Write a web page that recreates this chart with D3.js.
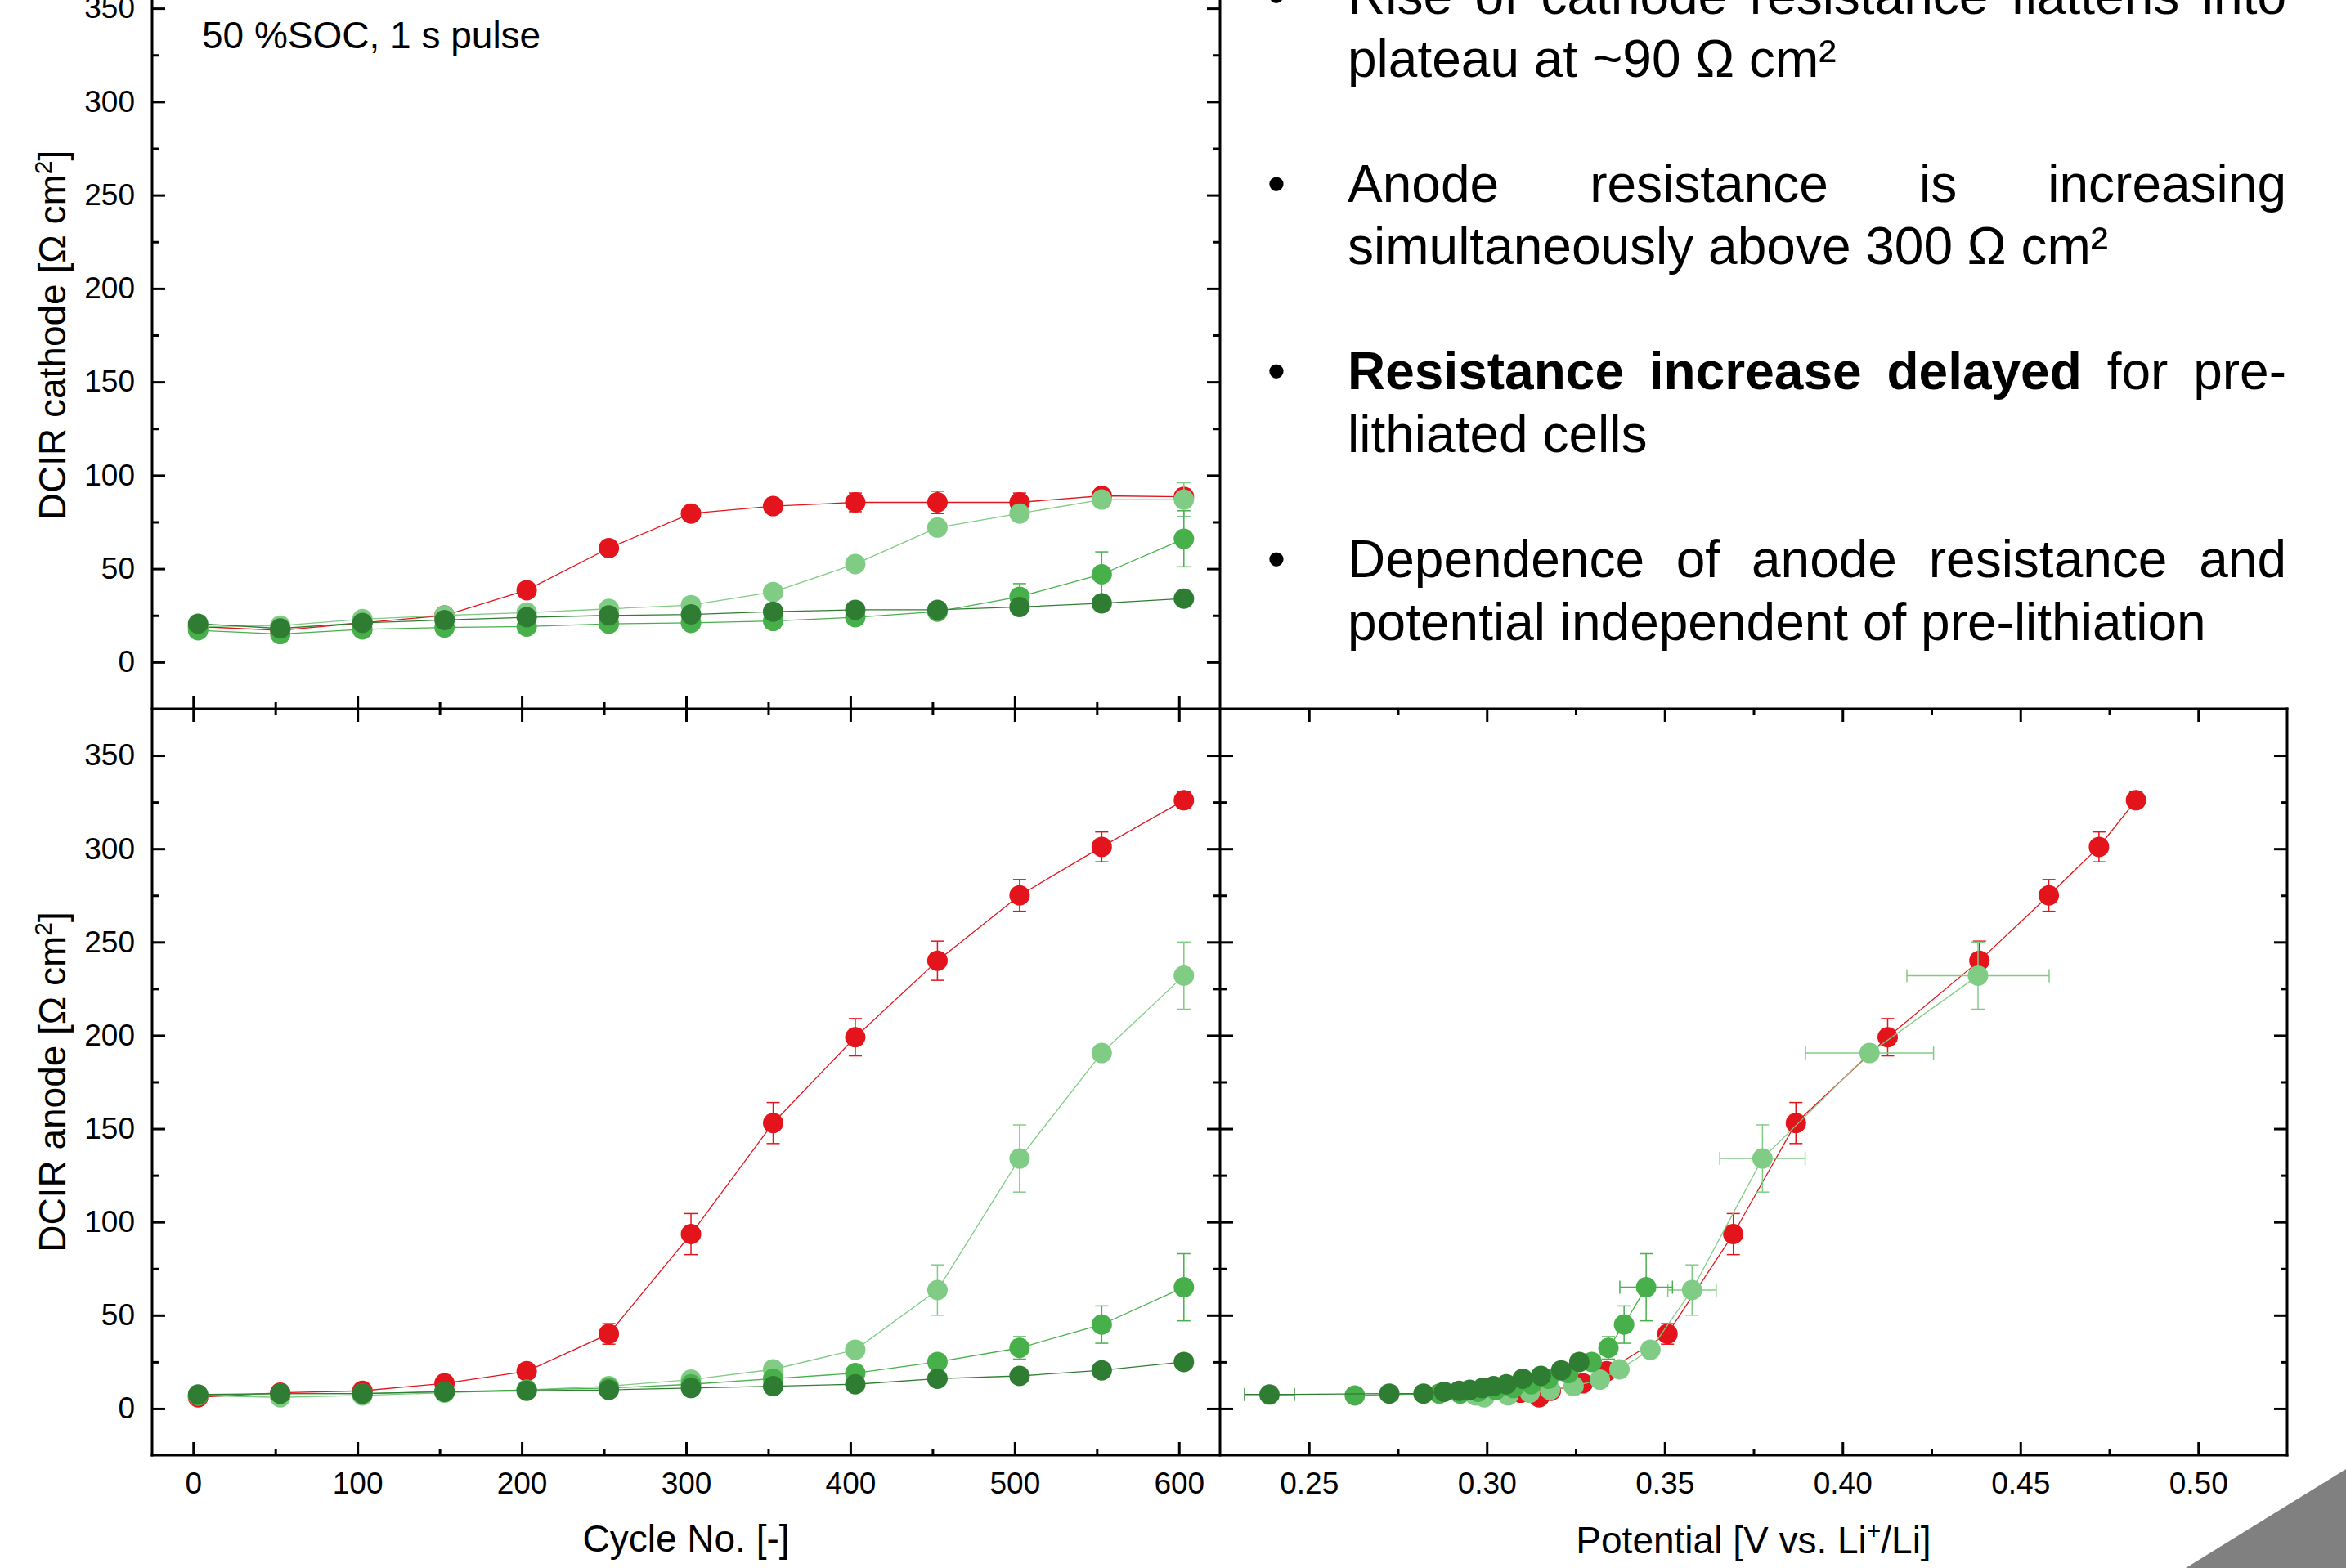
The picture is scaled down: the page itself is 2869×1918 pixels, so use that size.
<!DOCTYPE html>
<html lang="en">
<head>
<meta charset="UTF-8">
<title>DCIR cathode / anode vs cycle and potential</title>
<script src="https://d3js.org/d3.v7.min.js"></script>
<style>
    body { margin: 0; background: #fff; }
    text { font-family: "Liberation Sans", Arial, sans-serif; fill: #000; }
</style>
</head>
<body>
<script>
    // ---- data ----
    var cycleNo = [3, 53, 103, 153, 203, 253, 303, 353, 403, 453, 503, 553, 603];

    // DCIR cathode [Ohm cm2]
    var cathRed      = [19, 17, 21, 25, 38.5, 61, 79.5, 83.5, 85.5, 85.5, 85.5, 89, 88.5];
    var cathRedErr   = [1, 1, 1, 1, 1, 1.5, 1.5, 2, 5, 6, 5, 3, 4];
    var cathLight    = [19, 19.5, 23, 25, 26.5, 28.5, 30.5, 37.5, 52.5, 72, 79.5, 87, 87];
    var cathLightErr = [1, 1, 1, 1, 1, 1, 1, 1.5, 2, 2, 3, 2, 9];
    var cathMid      = [17, 15, 17.5, 18.5, 19, 20.5, 21, 22, 24, 27, 35, 47, 66];
    var cathMidErr   = [1, 1, 1, 1, 1, 1, 1, 1, 1.5, 2, 7, 12, 15];
    var cathDark     = [20.5, 18, 21, 22.5, 24, 25, 25.5, 27, 28, 28, 29.5, 31.5, 34];
    var cathDarkErr  = [1, 1, 1, 1, 1, 1, 1, 1, 1, 1.5, 1.5, 2, 3];

    // DCIR anode [Ohm cm2]
    var anoRed      = [6, 8.5, 9.5, 13.5, 20, 40, 93.5, 153, 199, 240, 275, 301, 326];
    var anoRedErr   = [1, 1, 1, 1.5, 2, 5.5, 11, 11, 10, 10.5, 8.5, 8, 4.5];
    var anoLight    = [7, 6, 7, 8.5, 10, 12, 15.5, 21, 31.5, 63.5, 134, 190.5, 232];
    var anoLightErr = [1, 1, 1, 1, 1, 1, 1.5, 2, 3, 13.5, 18, 3.5, 18];
    var anoMid      = [7, 8, 8, 9, 10, 11, 13, 16, 19, 25, 32.5, 45, 65];
    var anoMidErr   = [1, 1, 1, 1, 1, 1, 1, 1, 1.5, 2, 6, 10, 18];
    var anoDark     = [7.5, 8, 8, 9, 9.5, 10, 11, 12, 13, 16, 17.5, 20.5, 25];
    var anoDarkErr  = [1, 1, 1, 1, 1, 1, 1, 1, 1, 1, 1.5, 1.5, 2];

    // anode potential [V vs. Li+/Li]
    var potRed      = [0.3147, 0.3095, 0.318, 0.327, 0.3337, 0.3508, 0.3693, 0.3869, 0.4127, 0.4385, 0.458, 0.4721, 0.4825];
    var potRedErr   = [0.001, 0.001, 0.001, 0.001, 0.001, 0.001, 0.0015, 0.0015, 0.0015, 0.0015, 0.0015, 0.0015, 0.0015];
    var potLight    = [0.2968, 0.2993, 0.306, 0.3121, 0.3178, 0.3244, 0.3318, 0.3373, 0.346, 0.3577, 0.3775, 0.4076, 0.4381];
    var potLightErr = [0.001, 0.001, 0.001, 0.001, 0.001, 0.001, 0.001, 0.0015, 0.002, 0.0068, 0.012, 0.018, 0.02];
    var potMid      = [0.2629, 0.2866, 0.2925, 0.2975, 0.3025, 0.3075, 0.3125, 0.3173, 0.3229, 0.3295, 0.3342, 0.3386, 0.3448];
    var potMidErr   = [0.002, 0.001, 0.001, 0.001, 0.001, 0.001, 0.001, 0.001, 0.001, 0.0015, 0.002, 0.002, 0.0074];
    var potDark     = [0.2389, 0.2726, 0.2822, 0.288, 0.2922, 0.2952, 0.2988, 0.3019, 0.3055, 0.3101, 0.3152, 0.3209, 0.326];
    var potDarkErr  = [0.007, 0.001, 0.001, 0.001, 0.001, 0.001, 0.001, 0.001, 0.001, 0.001, 0.001, 0.001, 0.001];

    var colors = ['#e3141b', '#80cc84', '#47b04b', '#2f7d32'];

    // ticks
    var cycleTicks = [0, 100, 200, 300, 400, 500, 600];
    var cycleMinor = [50, 150, 250, 350, 450, 550];
    var potTicks = [0.25, 0.30, 0.35, 0.40, 0.45, 0.50];
    var potMinor = [0.275, 0.325, 0.375, 0.425, 0.475];
    var dcirTicks = [0, 50, 100, 150, 200, 250, 300, 350];
    var dcirMinor = [25, 75, 125, 175, 225, 275, 325];

    var notes = [
        [[{t: 'Rise of cathode resistance flattens into'}], [{t: 'plateau at ~90 Ω cm²'}]],
        [[{t: 'Anode resistance is increasing'}], [{t: 'simultaneously above 300 Ω cm²'}]],
        [[{t: 'Resistance increase delayed', b: true}, {t: 'for pre-'}], [{t: 'lithiated cells'}]],
        [[{t: 'Dependence of anode resistance and'}], [{t: 'potential independent of pre-lithiation'}]]
    ];

    // ---- layout ----
    var W = 2869, H = 1918;
    var L = 186, M = 1492, R = 2797, TOP = -47, MID = 867, BOT = 1780;

    var svg = d3.select('body').append('svg')
            .attr('width', W)
            .attr('height', H)
            .style('display', 'block');
    svg.append('rect').attr('width', W).attr('height', H).attr('fill', '#fff');

    var xCyc = d3.scaleLinear().domain([-25, 625]).range([L, M]);
    var xPot = d3.scaleLinear().domain([0.225, 0.525]).range([M, R]);
    var yCat = d3.scaleLinear().domain([-25, 375]).range([MID, TOP]);
    var yAno = d3.scaleLinear().domain([-25, 375]).range([BOT, MID]);

    function addTicks(axisFn, scale, majors, minors, tx, ty, fmt) {
        var g = svg.append('g').attr('transform', 'translate(' + tx + ',' + ty + ')');
        g.call(axisFn(scale).tickValues(majors).tickSize(-16)
                .tickPadding(fmt ? 21 : 0).tickFormat(fmt || ''));
        g.select('.domain').remove();
        g.attr('font-size', 37).attr('font-family', '"Liberation Sans", Arial, sans-serif');
        g.selectAll('line').attr('stroke', '#000').attr('stroke-width', 3);
        var g2 = svg.append('g').attr('transform', 'translate(' + tx + ',' + ty + ')');
        g2.call(axisFn(scale).tickValues(minors).tickSize(-8).tickFormat(''));
        g2.select('.domain').remove();
        g2.selectAll('line').attr('stroke', '#000').attr('stroke-width', 3);
    }

    var fInt = d3.format('d'), fPot = d3.format('.2f');

    // top-left: cathode vs cycle
    addTicks(d3.axisLeft, yCat, dcirTicks, dcirMinor, L, 0, fInt);
    addTicks(d3.axisRight, yCat, dcirTicks, dcirMinor, M, 0, null);
    addTicks(d3.axisBottom, xCyc, cycleTicks, cycleMinor, 0, MID, null);
    // bottom-left: anode vs cycle
    addTicks(d3.axisLeft, yAno, dcirTicks, dcirMinor, L, 0, fInt);
    addTicks(d3.axisRight, yAno, dcirTicks, dcirMinor, M, 0, null);
    addTicks(d3.axisTop, xCyc, cycleTicks, cycleMinor, 0, MID, null);
    addTicks(d3.axisBottom, xCyc, cycleTicks, cycleMinor, 0, BOT, fInt);
    // bottom-right: anode vs potential
    addTicks(d3.axisLeft, yAno, dcirTicks, dcirMinor, M, 0, null);
    addTicks(d3.axisRight, yAno, dcirTicks, dcirMinor, R, 0, null);
    addTicks(d3.axisTop, xPot, potTicks, potMinor, 0, MID, null);
    addTicks(d3.axisBottom, xPot, potTicks, potMinor, 0, BOT, fPot);

    // frames
    var frame = [[L, TOP, L, BOT], [M, TOP, M, BOT], [R, MID, R, BOT],
        [L, MID, R, MID], [L, BOT, R, BOT], [L, TOP, M, TOP]];
    svg.selectAll('line.frame').data(frame).enter().append('line')
            .attr('class', 'frame')
            .attr('x1', function (d) { return d[0]; })
            .attr('y1', function (d) { return d[1]; })
            .attr('x2', function (d) { return d[2]; })
            .attr('y2', function (d) { return d[3]; })
            .attr('stroke', '#000')
            .attr('stroke-width', 3)
            .attr('stroke-linecap', 'square');

    // ---- series ----
    function drawSeries(xs, ys, yErr, xErr, xs_, ys_, color) {
        var pts = xs.map(function (x, i) {
            return {x: x, y: ys[i], ey: yErr ? yErr[i] : 0, ex: xErr ? xErr[i] : 0};
        });
        var g = svg.append('g');
        g.append('path').datum(pts)
                .attr('d', d3.line().x(function (d) { return xs_(d.x); }).y(function (d) { return ys_(d.y); }))
                .attr('fill', 'none').attr('stroke', color).attr('stroke-width', 1.3);
        var eb = g.append('g').attr('stroke', color).attr('stroke-width', 1.5);
        pts.forEach(function (d) {
            var cx = xs_(d.x), cy = ys_(d.y);
            if (d.ey) {
                var y1 = ys_(d.y + d.ey), y2 = ys_(d.y - d.ey);
                eb.append('line').attr('x1', cx).attr('x2', cx).attr('y1', y1).attr('y2', y2);
                eb.append('line').attr('x1', cx - 8).attr('x2', cx + 8).attr('y1', y1).attr('y2', y1);
                eb.append('line').attr('x1', cx - 8).attr('x2', cx + 8).attr('y1', y2).attr('y2', y2);
            }
            if (d.ex) {
                var x1 = xs_(d.x - d.ex), x2 = xs_(d.x + d.ex);
                eb.append('line').attr('x1', x1).attr('x2', x2).attr('y1', cy).attr('y2', cy);
                eb.append('line').attr('x1', x1).attr('x2', x1).attr('y1', cy - 8).attr('y2', cy + 8);
                eb.append('line').attr('x1', x2).attr('x2', x2).attr('y1', cy - 8).attr('y2', cy + 8);
            }
        });
        g.selectAll('circle').data(pts).enter().append('circle')
                .attr('cx', function (d) { return xs_(d.x); })
                .attr('cy', function (d) { return ys_(d.y); })
                .attr('r', 12.5)
                .attr('fill', color);
    }

    drawSeries(cycleNo, cathRed, cathRedErr, null, xCyc, yCat, colors[0]);
    drawSeries(cycleNo, cathLight, cathLightErr, null, xCyc, yCat, colors[1]);
    drawSeries(cycleNo, cathMid, cathMidErr, null, xCyc, yCat, colors[2]);
    drawSeries(cycleNo, cathDark, cathDarkErr, null, xCyc, yCat, colors[3]);

    drawSeries(cycleNo, anoRed, anoRedErr, null, xCyc, yAno, colors[0]);
    drawSeries(cycleNo, anoLight, anoLightErr, null, xCyc, yAno, colors[1]);
    drawSeries(cycleNo, anoMid, anoMidErr, null, xCyc, yAno, colors[2]);
    drawSeries(cycleNo, anoDark, anoDarkErr, null, xCyc, yAno, colors[3]);

    drawSeries(potRed, anoRed, anoRedErr, potRedErr, xPot, yAno, colors[0]);
    drawSeries(potLight, anoLight, anoLightErr, potLightErr, xPot, yAno, colors[1]);
    drawSeries(potMid, anoMid, anoMidErr, potMidErr, xPot, yAno, colors[2]);
    drawSeries(potDark, anoDark, anoDarkErr, potDarkErr, xPot, yAno, colors[3]);

    // ---- titles ----
    function yTitle(label, cy) {
        var t = svg.append('text')
                .attr('transform', 'translate(80,' + cy + ') rotate(-90)')
                .attr('text-anchor', 'middle')
                .attr('font-size', 46);
        t.append('tspan').text(label + ' [Ω cm');
        t.append('tspan').text('2').attr('font-size', 30).attr('dy', -17);
        t.append('tspan').text(']').attr('dy', 17);
    }
    yTitle('DCIR cathode', (TOP + MID) / 2);
    yTitle('DCIR anode', (MID + BOT) / 2);

    svg.append('text').attr('x', (L + M) / 2).attr('y', 1898)
            .attr('text-anchor', 'middle').attr('font-size', 46)
            .text('Cycle No. [-]');
    var pt = svg.append('text').attr('x', (M + R) / 2).attr('y', 1900)
            .attr('text-anchor', 'middle').attr('font-size', 46);
    pt.append('tspan').text('Potential [V vs. Li');
    pt.append('tspan').text('+').attr('font-size', 30).attr('dy', -17);
    pt.append('tspan').text('/Li]').attr('dy', 17);

    svg.append('text').attr('x', 247).attr('y', 59).attr('font-size', 46)
            .text('50 %SOC, 1 s pulse');

    // ---- bullet notes (justified) ----
    var TX = 1648, TW = 1148, FS = 64;
    function drawLine(y, parts, justify) {
        var words = [];
        parts.forEach(function (p) {
            p.t.split(' ').forEach(function (w) { words.push({w: w, b: p.b}); });
        });
        var t = svg.append('text').attr('y', y).attr('font-size', FS);
        var spans = t.selectAll('tspan').data(words).enter().append('tspan')
                .text(function (d) { return d.w; })
                .attr('font-weight', function (d) { return d.b ? 'bold' : null; });
        var widths = [];
        spans.each(function () { widths.push(this.getComputedTextLength()); });
        var gap = justify && words.length > 1 ? (TW - d3.sum(widths)) / (words.length - 1) : FS * 0.278;
        var x = TX;
        spans.attr('x', function (d, i) { var xx = x; x += widths[i] + gap; return xx; });
    }
    notes.forEach(function (para, i) {
        var y0 = 17 + i * 229.7;
        svg.append('text').attr('x', 1561).attr('y', y0).attr('text-anchor', 'middle')
                .attr('font-size', FS).text('•');
        drawLine(y0, para[0], true);
        drawLine(y0 + 76.5, para[1], false);
    });

    // corner decoration
    svg.append('polygon').attr('points', '2673,1918 2869,1797 2869,1918').attr('fill', '#808080');
</script>
</body>
</html>
